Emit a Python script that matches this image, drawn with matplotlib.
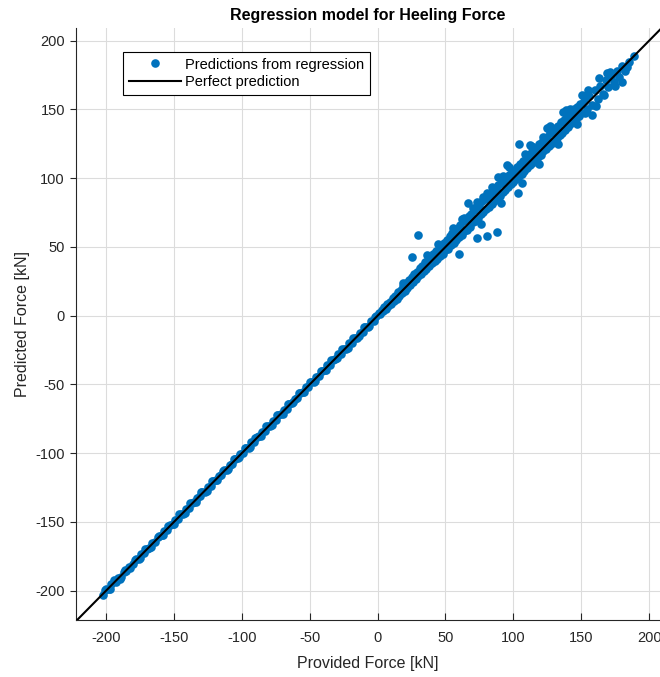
import matplotlib.pyplot as plt
import numpy as np

plt.rcParams['font.family'] = ['Liberation Sans', 'DejaVu Sans']
plt.rcParams['axes.unicode_minus'] = False

# provided force vs. regression prediction, kN
provided = [
    -202, -200, -198, -196, -193, -191, -189, -187, -185, -183, -180, -178, -176, -174,
    -172, -170, -168, -166, -164, -161, -159, -157, -155, -153, -151, -149, -147, -145,
    -143, -141, -139, -137, -135, -133, -131, -129, -127, -125, -123, -121, -119, -117,
    -115, -113, -111, -109, -107, -105, -103, -101, -99, -97, -95, -93, -91, -89, -87,
    -85, -83, -81, -79, -77, -75, -73, -71, -69, -67, -65, -63, -61, -59, -57, -55, -53,
    -51, -49, -47, -45, -43, -41, -39, -37, -35, -33, -31, -29, -27, -25, -23, -21, -19,
    -17, -15, -13, -11, -9, -7, -5, -3, -1,
    -201, -197, -194, -190, -186, -182, -179, -175, -171, -167, -162, -158, -154, -150,
    -146, -142, -138, -134, -130, -126, -122, -118, -114, -110, -106, -102, -98, -94,
    -90, -86, -82, -78, -74, -70, -66, -62, -58, -54, -50, -46, -42, -38, -34, -30,
    -26, -22, -18, -14, -10, -6, -2,
    1, 2, 3, 4, 5, 6, 7, 8, 9, 10, 11, 12, 13, 14, 15, 16, 17, 18, 19, 20, 21, 22, 23,
    24, 25, 26, 27, 28, 29, 30, 31, 32, 33, 34, 35, 36, 37, 38, 39, 40, 41, 42, 43, 44,
    45, 46, 47, 48, 49, 50,
    51, 52, 53, 54, 55, 56, 57, 58, 59, 60, 61, 62, 63, 64, 65, 66, 67, 68, 69, 70, 71,
    72, 73, 74, 75, 76, 77, 78, 79, 80, 81, 82, 83, 84, 85, 86, 87, 88, 89, 90, 91, 92,
    93, 94, 95, 96, 97, 98, 99, 100, 101, 102, 103, 104, 105, 106, 107, 108, 109, 110,
    111, 112, 113, 114, 115, 116, 117, 118, 119, 120, 121, 122, 123, 124, 125, 126, 127,
    128, 129, 130, 131, 132, 133, 134, 135, 136, 137, 138, 139, 140, 141, 142, 143, 144,
    145, 146, 147, 148, 149, 150, 152, 154, 156, 158, 160, 162, 164, 166, 168, 170, 172,
    174, 176, 178, 180, 182, 185,
    30.0, 25.6, 60.0, 73.0, 80.3, 87.7, 66.3, 73.0, 80.3, 104.1, 103.6, 95.0, 88.9,
    124.5, 131.8, 112.2, 189.0, 183.4, 179.7, 163.3, 150.3, 157.6, 136.8, 125.7, 114.7,
    18.5, 36.5, 44.5, 55.5, 63.5, 77.5, 92.5, 108.5, 121.5, 141.5, 153.0, 167.0, 171.0,
    62, 70, 76, 84, 91, 97, 106, 113, 119, 127, 133, 139, 147, 155, 161, 169, 175,
]
predicted = [
    -202.8, -199.1, -198.9, -195.2, -193.6, -190.4, -189.9, -186.1, -185.7, -182.6,
    -180.9, -177.3, -176.8, -173.2, -172.5, -169.6, -168.9, -165.3, -164.7, -160.2,
    -159.8, -156.4, -155.9, -152.1, -151.6, -148.3, -147.7, -144.5, -143.9, -140.4,
    -139.6, -136.2, -135.8, -132.5, -131.4, -128.3, -127.9, -124.6, -123.7, -120.1,
    -119.8, -116.5, -115.6, -112.3, -111.9, -108.4, -107.5, -104.2, -103.8, -100.3,
    -99.7, -96.4, -95.9, -92.2, -91.6, -88.5, -87.8, -84.3, -83.6, -80.2, -79.9, -76.4,
    -75.7, -72.1, -71.8, -68.5, -67.6, -64.2, -63.8, -60.3, -59.9, -56.5, -55.6, -52.2,
    -51.7, -48.4, -47.9, -44.3, -43.6, -40.2, -39.8, -36.1, -35.9, -32.4, -31.7, -28.2,
    -27.8, -24.3, -23.9, -20.1, -19.8, -16.2, -15.9, -12.4, -11.8, -8.1, -7.9, -4.2,
    -3.8, -0.3,
    -199.6, -198.4, -192.3, -191.5, -184.6, -183.2, -177.8, -176.3, -169.8, -168.4,
    -160.7, -159.3, -152.6, -151.4, -144.2, -143.6, -136.4, -135.3, -128.5, -127.2,
    -120.4, -119.3, -112.6, -111.2, -104.5, -103.1, -96.3, -95.4, -88.6, -87.2, -80.4,
    -79.3, -72.5, -71.2, -64.4, -63.1, -56.3, -55.2, -48.5, -47.3, -40.4, -39.2, -32.5,
    -31.1, -24.4, -23.2, -16.5, -15.1, -8.4, -7.2, -0.6,
    1.8, 0.9, 4.1, 3.2, 6.3, 4.8, 8.5, 6.9, 10.2, 8.4, 12.6, 10.9, 14.1, 12.3, 17.2,
    14.5, 18.9, 16.2, 21.4, 18.1, 23.6, 20.4, 25.8, 22.1, 28.3, 24.2, 30.5, 26.4, 32.1,
    28.6, 34.7, 30.2, 36.4, 32.8, 38.9, 34.1, 40.3, 35.9, 42.7, 38.2, 44.9, 39.6, 46.8,
    41.5, 48.2, 43.3, 51.4, 45.1, 52.6, 47.8,
    55.3, 48.6, 57.9, 51.2, 60.4, 52.7, 61.8, 55.1, 63.5, 57.3, 66.2, 58.4, 68.9, 61.5,
    70.1, 62.3, 72.8, 64.6, 74.2, 67.9, 76.5, 69.2, 78.8, 71.4, 80.3, 73.6, 83.1, 75.2,
    84.7, 77.9, 86.2, 79.3, 88.6, 81.4, 90.9, 83.2, 92.4, 85.7, 94.8, 87.1, 96.3, 90.2,
    98.7, 91.4, 100.9, 93.6, 102.1, 95.8, 104.6, 97.2, 106.3, 99.5, 108.1, 101.4, 110.2,
    103.1, 112.6, 104.9, 114.3, 107.2, 115.8, 109.4, 118.2, 111.1, 120.4, 113.6, 122.1,
    115.3, 124.7, 117.2, 126.3, 119.8, 128.1, 121.4, 130.2, 123.6, 132.5, 125.1, 134.3,
    127.4, 136.1, 129.5, 138.2, 131.2, 140.6, 133.1, 142.3, 135.4, 144.1, 137.2, 146.2,
    139.1, 148.1, 141.3, 150.2, 143.4, 152.1, 145.2, 154.3, 147.1, 156.2, 150.3, 159.8,
    153.2, 164.1, 157.9, 167.3, 161.4, 171.2, 166.3, 174.5, 170.1, 178.2, 173.4, 181.6,
    178.3, 184.2,
    58.7, 42.5, 44.9, 56.3, 58.0, 61.1, 82.2, 82.9, 89.0, 124.6, 89.0, 109.6, 101.1,
    136.3, 137.5, 124.1, 188.9, 181.1, 170.2, 172.7, 160.5, 146.0, 148.4, 136.3, 122.9,
    23.6, 43.8, 52.1, 63.9, 71.2, 86.4, 101.3, 117.6, 130.1, 150.4, 147.2, 160.6, 177.4,
    70.5, 78.2, 66.8, 93.5, 82.3, 108.2, 96.4, 123.1, 110.2, 137.6, 124.8, 149.5, 139.3,
    164.2, 152.6, 176.5, 166.9,
]
perfect = [-222.1, 209.2]

fig = plt.figure(figsize=(6.6, 6.77), dpi=100)
ax = fig.add_axes([0.1152, 0.0842, 0.8848, 0.8744])

ax.plot(provided, predicted, 'o', color='#0072BD', markersize=6.2,
        markeredgewidth=0, label='Predictions from regression', zorder=3)
ax.plot(perfect, perfect, '-', color='black', linewidth=1.5,
        label='Perfect prediction', zorder=4)

ax.set_xlim(-222.1, 208.0)
ax.set_ylim(-221.3, 209.2)
ax.set_xticks(np.arange(-200, 201, 50))
ax.set_yticks(np.arange(-200, 201, 50))

ax.grid(True, color='#dcdcdc', linewidth=0.8)
ax.set_axisbelow(True)
for side in ['top', 'right']:
    ax.spines[side].set_visible(False)
for side in ['left', 'bottom']:
    ax.spines[side].set_color('#262626')
    ax.spines[side].set_linewidth(0.8)
ax.tick_params(axis='x', direction='in', length=5, colors='#262626',
               labelsize=10.5, pad=8)
ax.tick_params(axis='y', direction='out', length=4, colors='#262626',
               labelsize=10.5, pad=4)

ax.set_xlabel('Provided Force [kN]', fontsize=11.5, color='#262626', labelpad=8)
ax.set_ylabel('Predicted Force [kN]', fontsize=11.5, color='#262626', labelpad=4)
ax.set_title('Regression model for Heeling Force', fontsize=11.5, fontweight='bold',
             pad=6)

leg = ax.legend(loc='upper left', bbox_to_anchor=(0.08, 0.96), fontsize=10.5,
                frameon=True, fancybox=False, edgecolor='black', framealpha=1,
                borderpad=0.4, labelspacing=0.25, handlelength=3.6, handletextpad=0.3,
                borderaxespad=0)
leg.get_frame().set_linewidth(0.8)

fig.savefig('out.png', dpi=100)
